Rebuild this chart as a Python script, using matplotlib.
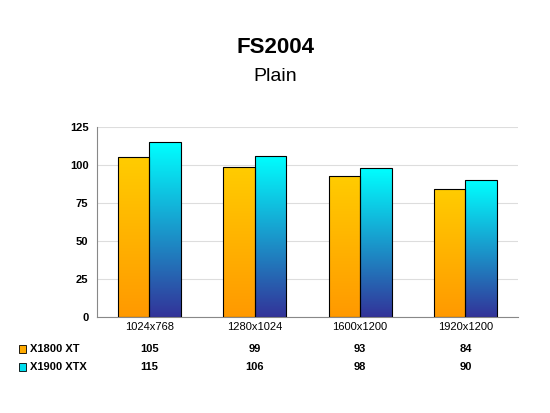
import matplotlib
matplotlib.use("Agg")
import matplotlib.pyplot as plt
import numpy as np
from matplotlib.colors import LinearSegmentedColormap
from matplotlib.patches import Rectangle

categories = ["1024x768", "1280x1024", "1600x1200", "1920x1200"]
series_names = ["X1800 XT", "X1900 XTX"]
x1800 = [105, 99, 93, 84]
x1900 = [115, 106, 98, 90]
yticks = [0, 25, 50, 75, 100, 125]

fig = plt.figure(figsize=(5.5, 4.13), dpi=100)
ax = fig.add_axes([0.176, 0.2324, 0.766, 0.4601])
ax.set_xlim(0, 4)
ax.set_ylim(0, 125)
ax.set_yticks(yticks)
ax.set_yticklabels([str(t) for t in yticks], fontsize=8, family="Liberation Sans", fontweight="bold")
ax.set_xticks([])
ax.grid(axis="y", color="#dddddd", linewidth=0.8)
ax.set_axisbelow(True)
for s in ["top", "right"]:
    ax.spines[s].set_visible(False)
ax.spines["left"].set_color("#888888")
ax.spines["bottom"].set_color("#888888")
ax.tick_params(axis="y", length=0, pad=6)

cmaps = [LinearSegmentedColormap.from_list("o", ["#FF9900", "#FFCC00"]),
         LinearSegmentedColormap.from_list("c", ["#333399", "#00FFFF"])]
w = 0.3
grad = np.linspace(0, 1, 256).reshape(-1, 1)
for si, vals in enumerate([x1800, x1900]):
    for i, v in enumerate(vals):
        x0 = i + 0.5 - w + si * w
        im = ax.imshow(grad, extent=[x0, x0 + w, 0, v], origin="lower",
                       cmap=cmaps[si], aspect="auto", zorder=2)
        r = Rectangle((x0, 0), w, v, facecolor="none", edgecolor="black", linewidth=0.8, zorder=3)
        ax.add_patch(r)
        im.set_clip_path(r)
ax.set_xlim(0, 4)
ax.set_ylim(0, 125)

fig.text(0.5, 0.885, "FS2004", ha="center", va="center", fontsize=16, fontweight="bold", family="Liberation Sans")
fig.text(0.5, 0.815, "Plain", ha="center", va="center", fontsize=14, family="Liberation Sans")

trans = ax.get_xaxis_transform()
for i, c in enumerate(categories):
    ax.text(i + 0.5, -0.05, c, transform=trans, ha="center", va="center", fontsize=8, family="Liberation Sans")
colors = ["#FFAA00", "#00DDEE"]
rows_y = [1 - 349 / 413, 1 - 367 / 413]
for si, (name, vals) in enumerate(zip(series_names, [x1800, x1900])):
    fig.patches.append(Rectangle((0.035, rows_y[si] - 0.009), 0.012, 0.018, transform=fig.transFigure,
                                 facecolor=colors[si], edgecolor="black", linewidth=0.6))
    fig.text(0.055, rows_y[si], name, ha="left", va="center", fontsize=8, fontweight="bold", family="Liberation Sans")
    for i, v in enumerate(vals):
        xf = 0.176 + 0.766 * (i + 0.5) / 4
        fig.text(xf, rows_y[si], str(v), ha="center", va="center", fontsize=8, fontweight="bold", family="Liberation Sans")

fig.savefig("out.png", dpi=100)
